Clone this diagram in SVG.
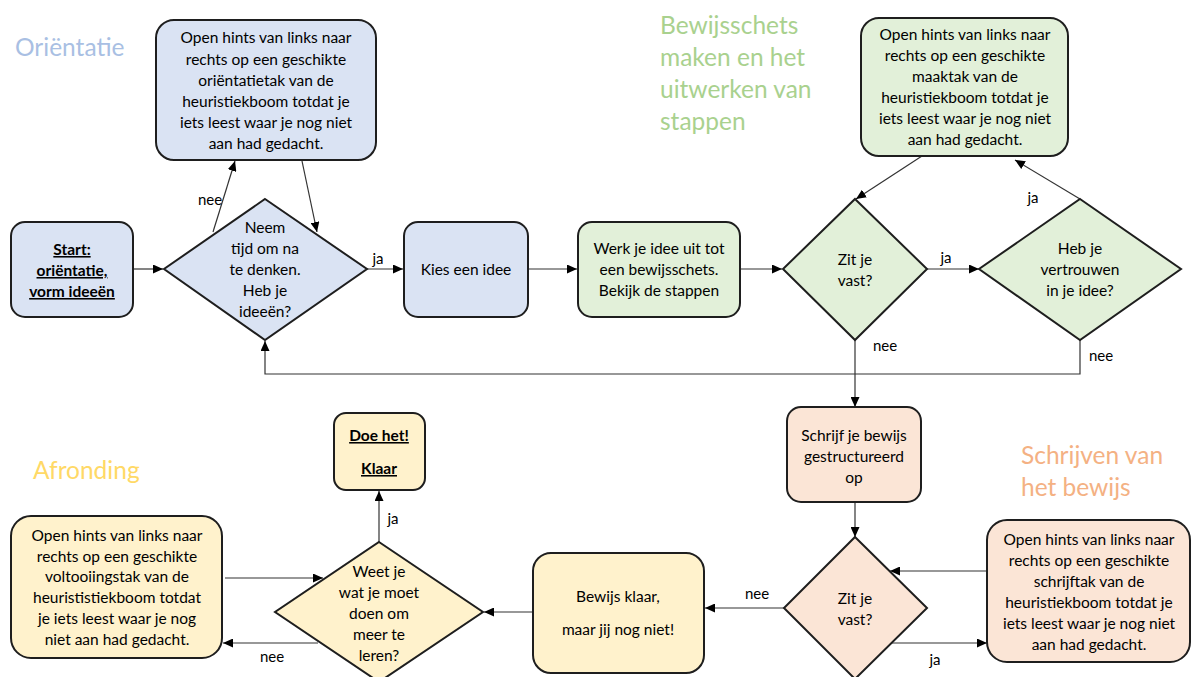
<svg xmlns="http://www.w3.org/2000/svg" width="1192" height="677" viewBox="0 0 1192 677">
<style>
.n{stroke:#1e1e1e;stroke-width:2}
.b{fill:#dae3f3}.g{fill:#e2f0d9}.p{fill:#fbe5d6}.y{fill:#fff2cc}
text{font-family:Lato,"Open Sans","Liberation Sans",sans-serif;font-size:15.5px;fill:#000}
.t{text-anchor:middle}
.u{font-weight:bold;text-decoration:underline}
.c{fill:none;stroke:#333;stroke-width:1.2}
.l{text-anchor:middle;font-size:15px}
.h{font-size:24.5px}
</style>
<defs>
<marker id="a" markerUnits="userSpaceOnUse" markerWidth="11" markerHeight="9" refX="10" refY="4.5" orient="auto"><path d="M0,0 L10,4.5 L0,9 z" fill="#000"/></marker>
</defs>
<rect width="1192" height="677" fill="#fff"/>
<g id="titles">
<text x="15" y="56" class="h" style="fill:#a9bfe3">Oriëntatie</text>
<text x="660" y="34" class="h" style="fill:#a9d18e">Bewijsschets</text>
<text x="660" y="66" class="h" style="fill:#a9d18e">maken en het</text>
<text x="660" y="98" class="h" style="fill:#a9d18e">uitwerken van</text>
<text x="660" y="130" class="h" style="fill:#a9d18e">stappen</text>
<text x="33" y="479" class="h" style="fill:#ffd966">Afronding</text>
<text x="1021" y="464" class="h" style="fill:#f4b183">Schrijven van</text>
<text x="1021" y="496" class="h" style="fill:#f4b183">het bewijs</text>
</g>
<g id="connectors">
<path class="c" d="M133,269 H163" marker-end="url(#a)"/>
<path class="c" d="M213,232 L235,161" marker-end="url(#a)"/>
<path class="c" d="M302,161 L317,232" marker-end="url(#a)"/>
<path class="c" d="M367,269 H403" marker-end="url(#a)"/>
<path class="c" d="M528,269 H577" marker-end="url(#a)"/>
<path class="c" d="M740,269 H782" marker-end="url(#a)"/>
<path class="c" d="M922,156 L856,199" marker-end="url(#a)"/>
<path class="c" d="M927,269 H979" marker-end="url(#a)"/>
<path class="c" d="M1080,199 L1015,160" marker-end="url(#a)"/>
<path class="c" d="M1080,340 V374 H265 V341" marker-end="url(#a)"/>
<path class="c" d="M855,340 V407" marker-end="url(#a)"/>
<path class="c" d="M855,502 V537" marker-end="url(#a)"/>
<path class="c" d="M987,571 H890" marker-end="url(#a)"/>
<path class="c" d="M891,643 H987" marker-end="url(#a)"/>
<path class="c" d="M784,608 H705" marker-end="url(#a)"/>
<path class="c" d="M533,612 H484" marker-end="url(#a)"/>
<path class="c" d="M379,542 V491" marker-end="url(#a)"/>
<path class="c" d="M225,578 H323" marker-end="url(#a)"/>
<path class="c" d="M318,643 H223" marker-end="url(#a)"/>
<text class="l" x="210" y="205">nee</text>
<text class="l" x="378" y="264">ja</text>
<text class="l" x="946" y="263">ja</text>
<text class="l" x="1033" y="203">ja</text>
<text class="l" x="885" y="351">nee</text>
<text class="l" x="1101" y="361">nee</text>
<text class="l" x="393" y="524">ja</text>
<text class="l" x="757" y="599">nee</text>
<text class="l" x="935" y="665">ja</text>
<text class="l" x="272" y="662">nee</text>
</g>
<g id="start">
<rect class="n b" x="11" y="222" width="122" height="95" rx="14"/>
<text class="t u" x="72" y="255">Start:</text>
<text class="t u" x="72" y="276">oriëntatie,</text>
<text class="t u" x="72" y="297">vorm ideeën</text>
</g>
<g id="hint-orientatie">
<rect class="n b" x="156" y="20" width="220" height="140" rx="18"/>
<text class="t" x="266" y="43">Open hints van links naar</text>
<text class="t" x="266" y="65">rechts op een geschikte</text>
<text class="t" x="266" y="86">oriëntatietak van de</text>
<text class="t" x="266" y="107">heuristiekboom totdat je</text>
<text class="t" x="266" y="128">iets leest waar je nog niet</text>
<text class="t" x="266" y="149">aan had gedacht.</text>
</g>
<g id="d-ideeen">
<polygon class="n b" points="265,199 367,269 265,340 164,269"/>
<text class="t" x="265" y="233">Neem</text>
<text class="t" x="265" y="254">tijd om na</text>
<text class="t" x="265" y="275">te denken.</text>
<text class="t" x="265" y="296">Heb je</text>
<text class="t" x="265" y="317">ideeën?</text>
</g>
<g id="kies">
<rect class="n b" x="404" y="222" width="124" height="95" rx="14"/>
<text class="t" x="466" y="275">Kies een idee</text>
</g>
<g id="werk">
<rect class="n g" x="578" y="222" width="162" height="95" rx="14"/>
<text class="t" x="659" y="254">Werk je idee uit tot</text>
<text class="t" x="659" y="275">een bewijsschets.</text>
<text class="t" x="659" y="296">Bekijk de stappen</text>
</g>
<g id="d-vast1">
<polygon class="n g" points="855,199 927,269 855,340 783,269"/>
<text class="t" x="855" y="265">Zit je</text>
<text class="t" x="855" y="286">vast?</text>
</g>
<g id="d-vertrouwen">
<polygon class="n g" points="1080,199 1181,269 1080,340 979,269"/>
<text class="t" x="1080" y="254">Heb je</text>
<text class="t" x="1080" y="275">vertrouwen</text>
<text class="t" x="1080" y="296">in je idee?</text>
</g>
<g id="hint-maak">
<rect class="n g" x="861" y="18" width="207" height="138" rx="18"/>
<text class="t" x="965" y="40">Open hints van links naar</text>
<text class="t" x="965" y="61">rechts op een geschikte</text>
<text class="t" x="965" y="82">maaktak van de</text>
<text class="t" x="965" y="103">heuristiekboom totdat je</text>
<text class="t" x="965" y="124">iets leest waar je nog niet</text>
<text class="t" x="965" y="145">aan had gedacht.</text>
</g>
<g id="schrijf">
<rect class="n p" x="787" y="407" width="134" height="95" rx="14"/>
<text class="t" x="854" y="441">Schrijf je bewijs</text>
<text class="t" x="854" y="462">gestructureerd</text>
<text class="t" x="854" y="483">op</text>
</g>
<g id="d-vast2">
<polygon class="n p" points="855,537 927,608 855,679 784,608"/>
<text class="t" x="855" y="604">Zit je</text>
<text class="t" x="855" y="625">vast?</text>
</g>
<g id="hint-schrijf">
<rect class="n p" x="987" y="520" width="203" height="142" rx="20"/>
<text class="t" x="1089" y="545">Open hints van links naar</text>
<text class="t" x="1089" y="566">rechts op een geschikte</text>
<text class="t" x="1089" y="587">schrijftak van de</text>
<text class="t" x="1089" y="608">heuristiekboom totdat je</text>
<text class="t" x="1089" y="629">iets leest waar je nog niet</text>
<text class="t" x="1089" y="650">aan had gedacht.</text>
</g>
<g id="bewijs-klaar">
<rect class="n y" x="533" y="553" width="171" height="120" rx="18"/>
<text class="t" x="618" y="602">Bewijs klaar,</text>
<text class="t" x="618" y="635">maar jij nog niet!</text>
</g>
<g id="d-weet">
<polygon class="n y" points="379,542 483,612 379,682 275,612"/>
<text class="t" x="379" y="577">Weet je</text>
<text class="t" x="379" y="598">wat je moet</text>
<text class="t" x="379" y="619">doen om</text>
<text class="t" x="379" y="640">meer te</text>
<text class="t" x="379" y="661">leren?</text>
</g>
<g id="doe-het">
<rect class="n y" x="334" y="413" width="91" height="77" rx="12"/>
<text class="t u" x="379" y="441">Doe het!</text>
<text class="t u" x="379" y="474">Klaar</text>
</g>
<g id="hint-voltooiing">
<rect class="n y" x="11" y="516" width="211" height="142" rx="20"/>
<text class="t" x="117" y="541">Open hints van links naar</text>
<text class="t" x="117" y="562">rechts op een geschikte</text>
<text class="t" x="117" y="582">voltooiingstak van de</text>
<text class="t" x="117" y="603">heurististiekboom totdat</text>
<text class="t" x="117" y="624">je iets leest waar je nog</text>
<text class="t" x="117" y="645">niet aan had gedacht.</text>
</g>
</svg>
